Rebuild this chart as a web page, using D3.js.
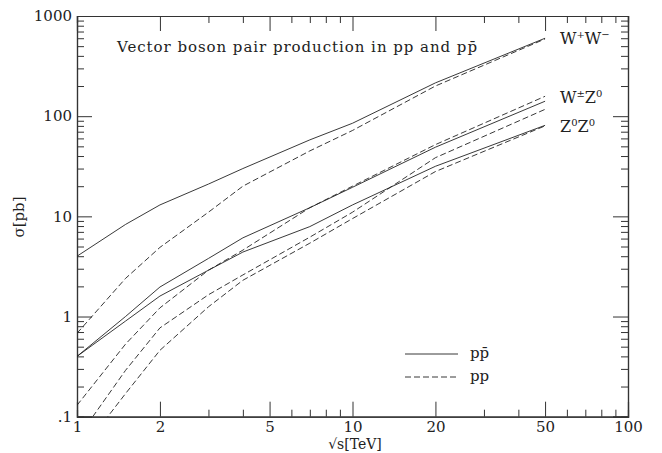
<!DOCTYPE html>
<html>
<head>
<meta charset="utf-8">
<script src="https://cdn.jsdelivr.net/npm/d3@7"></script>
<style>
body { margin: 0; padding: 0; background: #fff; }
text { font-family: "DejaVu Serif", "Liberation Serif", serif; fill: #222; }
</style>
</head>
<body>
<script>
// sqrt(s) in TeV, shared by every curve
var energies = [1, 1.5, 2, 3, 4, 7, 10, 20, 50];

// sigma in pb
var wwPpbar  = [4, 8.3, 13, 21, 30, 58, 85, 215, 600];
var wwPp     = [0.68, 2.4, 4.9, 11, 20, 45, 72, 200, 590];
var wzPpbar  = [0.4, 1.0, 1.97, 3.8, 6.1, 12.2, 19.5, 49, 141];
var wpzPp    = [0.13, 0.53, 1.22, 2.9, 4.6, 12.2, 20, 52, 158];
var wmzPp    = [0.06, 0.29, 0.77, 1.65, 2.6, 6.2, 11, 38.5, 117];
var zzPpbar  = [0.4, 0.9, 1.6, 2.9, 4.4, 7.9, 13, 31.6, 81];
var zzPp     = [0.04, 0.17, 0.46, 1.25, 2.3, 5.4, 9.5, 28, 80];

var xMajor = [1, 2, 5, 10, 20, 50, 100];
var xMinor = [3, 4, 6, 7, 8, 9, 30, 40, 60, 70, 80, 90];
var yMajor = [0.1, 1, 10, 100, 1000];
var yLabels = [".1", "1", "10", "100", "1000"];

var W = 662, H = 453;
var plotLeft = 77, plotRight = 628, plotTop = 16, plotBottom = 416.7;

var svg = d3.select("body").append("svg")
  .attr("width", W).attr("height", H);

var x = d3.scaleLog().domain([1, 100]).range([plotLeft, plotRight]);
var y = d3.scaleLog().domain([0.1, 1000]).range([plotBottom, plotTop]);

var yMinor = [];
yMajor.slice(0, -1).forEach(function (d) {
  for (var k = 2; k <= 9; k++) yMinor.push(d * k);
});

svg.append("clipPath").attr("id", "clip")
  .append("rect").attr("x", plotLeft).attr("y", plotTop)
  .attr("width", plotRight - plotLeft).attr("height", plotBottom - plotTop);

// axes, ticks all point inwards
function axisStyle(g) {
  g.select(".domain").attr("stroke", "#333").attr("stroke-width", 1.2);
  g.selectAll(".tick line").attr("stroke", "#333").attr("stroke-width", 1);
}

svg.append("g").attr("transform", "translate(0," + plotBottom + ")")
  .call(d3.axisBottom(x).tickValues(xMajor).tickSize(-15)
    .tickFormat(d3.format("d")))
  .call(axisStyle)
  .call(function (g) {
    g.selectAll("text").attr("font-size", 15).attr("fill", "#222")
      .attr("font-family", "DejaVu Serif").attr("dy", 0).attr("y", 15);
  });
svg.append("g").attr("transform", "translate(0," + plotBottom + ")")
  .call(d3.axisBottom(x).tickValues(xMinor).tickSize(-7).tickFormat(""))
  .call(axisStyle);

svg.append("g").attr("transform", "translate(0," + plotTop + ")")
  .call(d3.axisTop(x).tickValues(xMajor).tickSize(-15).tickFormat(""))
  .call(axisStyle);
svg.append("g").attr("transform", "translate(0," + plotTop + ")")
  .call(d3.axisTop(x).tickValues(xMinor).tickSize(-7).tickFormat(""))
  .call(axisStyle);

svg.append("g").attr("transform", "translate(" + plotLeft + ",0)")
  .call(d3.axisLeft(y).tickValues(yMajor).tickSize(-15)
    .tickFormat(function (d, i) { return yLabels[i]; }))
  .call(axisStyle)
  .call(function (g) {
    g.selectAll("text").attr("font-size", 15).attr("fill", "#222")
      .attr("font-family", "DejaVu Serif").attr("x", -5);
  });
svg.append("g").attr("transform", "translate(" + plotLeft + ",0)")
  .call(d3.axisLeft(y).tickValues(yMinor).tickSize(-7).tickFormat(""))
  .call(axisStyle);

svg.append("g").attr("transform", "translate(" + plotRight + ",0)")
  .call(d3.axisRight(y).tickValues(yMajor).tickSize(-15).tickFormat(""))
  .call(axisStyle);
svg.append("g").attr("transform", "translate(" + plotRight + ",0)")
  .call(d3.axisRight(y).tickValues(yMinor).tickSize(-7).tickFormat(""))
  .call(axisStyle);

// curves
var line = d3.line()
  .x(function (d) { return x(d[0]); })
  .y(function (d) { return y(d[1]); });

var curves = [
  { v: wwPpbar, dash: null },
  { v: wwPp,    dash: "6,3" },
  { v: wzPpbar, dash: null },
  { v: wpzPp,   dash: "6,3" },
  { v: wmzPp,   dash: "6,3" },
  { v: zzPpbar, dash: null },
  { v: zzPp,    dash: "6,3" }
];

svg.append("g").attr("clip-path", "url(#clip)")
  .selectAll("path").data(curves).enter().append("path")
  .attr("d", function (c) { return line(d3.zip(energies, c.v)); })
  .attr("fill", "none")
  .attr("stroke", "#222")
  .attr("stroke-width", 0.9)
  .attr("stroke-dasharray", function (c) { return c.dash; });

// title
svg.append("text").attr("x", 117).attr("y", 52).attr("font-size", 15)
  .attr("textLength", 360).attr("lengthAdjust", "spacing")
  .text("Vector boson pair production in pp and pp\u0304");

// process labels
function label(tx, ty, parts) {
  var t = svg.append("text").attr("x", tx).attr("y", ty).attr("font-size", 16);
  parts.forEach(function (p) {
    if (p[1]) t.append("tspan").attr("dy", -6).attr("font-size", 10).text(p[0]);
    else t.append("tspan").attr("dy", p[2] || 0).text(p[0]);
  });
}
label(560, 44, [["W"], ["+", 1], ["W", 0, 6], ["\u2212", 1]]);
label(560, 103, [["W"], ["\u00b1", 1], ["Z", 0, 6], ["0", 1]]);
label(560, 132, [["Z"], ["0", 1], ["Z", 0, 6], ["0", 1]]);

// legend
var legend = [
  { name: "pp\u0304", dash: null, ly: 354 },
  { name: "pp", dash: "6,3", ly: 377 }
];
legend.forEach(function (l) {
  svg.append("line").attr("x1", 405).attr("x2", 458)
    .attr("y1", l.ly).attr("y2", l.ly)
    .attr("stroke", "#222").attr("stroke-width", 0.9)
    .attr("stroke-dasharray", l.dash);
  svg.append("text").attr("x", 470).attr("y", l.ly + 4).attr("font-size", 15)
    .text(l.name);
});

// axis titles
svg.append("text").attr("x", 355).attr("y", 449).attr("font-size", 14)
  .attr("text-anchor", "middle").text("\u221as[TeV]");
svg.append("text").attr("transform", "translate(24,217) rotate(-90)")
  .attr("font-size", 15).attr("text-anchor", "middle").text("\u03c3[pb]");
</script>
</body>
</html>
